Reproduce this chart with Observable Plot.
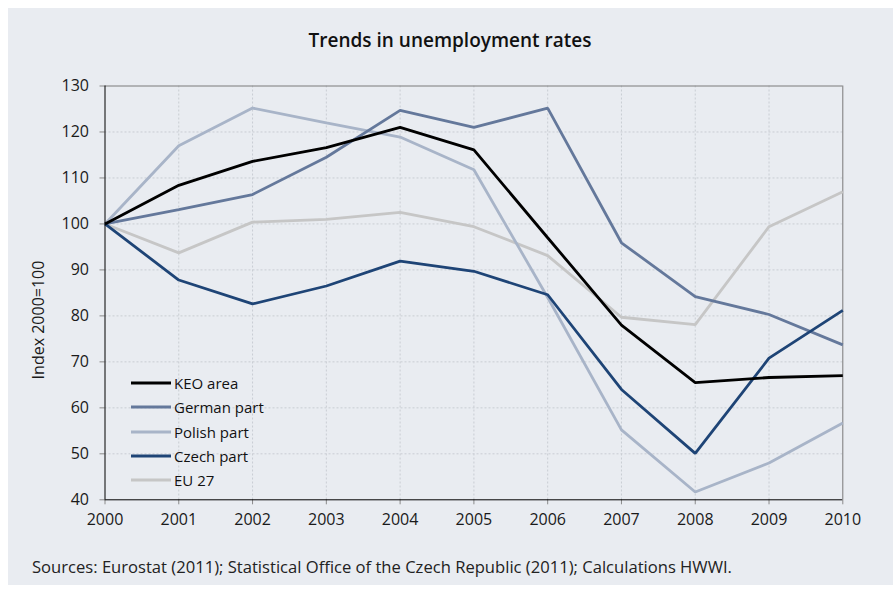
<!DOCTYPE html>
<html>
<head>
<meta charset="utf-8">
<script src="https://cdn.jsdelivr.net/npm/d3@7"></script>
<script src="https://cdn.jsdelivr.net/npm/@observablehq/plot@0.6"></script>
<style>
  html, body { margin: 0; padding: 0; background: #ffffff; width: 895px; height: 592px; overflow: hidden; }
  #panel { position: absolute; left: 8px; top: 8px; width: 885px; height: 577px; background: #e9ecf1; }
  #title { position: absolute; left: 0; width: 900px; top: 27px; text-align: center;
           font-family: "Open Sans", sans-serif; font-weight: 600; font-size: 19px; color: #111; }
  #chart { position: absolute; left: 0; top: 60px; }
  #caption { position: absolute; left: 32px; top: 555px; font-family: "Open Sans", sans-serif;
             font-size: 16.6px; color: #222; white-space: nowrap; }
  #legend { position: absolute; left: 131px; top: 371px; font-family: "Open Sans", sans-serif; font-size: 15px; color: #111; }
  #ylabel { position: absolute; left: 38px; top: 320px; width: 0; height: 0; }
  #ylabel span { position: absolute; transform: translate(-50%, -50%) rotate(-90deg); white-space: nowrap;
                 font-family: "Open Sans", sans-serif; font-size: 16px; color: #1a1a1a; }
  .row { height: 24.3px; display: flex; align-items: center; }
  .row svg { margin-right: 3px; }
</style>
</head>
<body>
<div id="panel"></div>
<div id="title">Trends in unemployment rates</div>
<div id="chart"></div>
<div id="ylabel"><span>Index 2000=100</span></div>
<div id="legend"></div>
<div id="caption">Sources: Eurostat (2011); Statistical Office of the Czech Republic (2011); Calculations HWWI.</div>
<script>
const years  = [2000, 2001, 2002, 2003, 2004, 2005, 2006, 2007, 2008, 2009, 2010];
const keo    = [100, 108.4, 113.6, 116.6, 121.0, 116.1, 97.0, 78.0, 65.5, 66.6, 67.0];
const german = [100, 103.1, 106.4, 114.5, 124.7, 121.0, 125.2, 95.9, 84.2, 80.3, 73.7];
const polish = [100, 117.0, 125.2, 122.0, 118.9, 111.8, 84.0, 55.2, 41.7, 48.0, 56.7];
const czech  = [100, 87.8, 82.6, 86.5, 91.9, 89.7, 84.6, 64.0, 50.1, 70.8, 81.2];
const eu27   = [100, 93.7, 100.4, 101.0, 102.5, 99.4, 93.1, 79.7, 78.1, 99.4, 107.0];
const yTicks = [40, 50, 60, 70, 80, 90, 100, 110, 120, 130];

const seriesNames  = ["KEO area", "German part", "Polish part", "Czech part", "EU 27"];
const seriesValues = [keo, german, polish, czech, eu27];
const seriesColors = ["#000000", "#64789b", "#a8b4c8", "#1e4476", "#c6c6c6"];
const drawOrder = [4, 2, 1, 3, 0];

const rows = [];
seriesNames.forEach((name, i) => years.forEach((yr, j) => rows.push({series: name, year: yr, value: seriesValues[i][j]})));

const grid = "#c9cdd3";
const lineMarks = drawOrder.map(i => Plot.line(rows.filter(r => r.series === seriesNames[i]), {
  x: "year", y: "value", stroke: seriesColors[i], strokeWidth: 2.8, strokeLinejoin: "miter", strokeLinecap: "butt"
}));

const chart = Plot.plot({
  width: 895,
  height: 475,
  marginLeft: 104.5,
  marginRight: 52.7,
  marginTop: 25.5,
  marginBottom: 35.7,
  style: { fontFamily: "Open Sans, sans-serif", background: "transparent", overflow: "visible" },
  x: { domain: [2000, 2010] },
  y: { domain: [40, 130] },
  marks: [
    Plot.ruleY(yTicks.slice(1, -1), { stroke: grid, strokeDasharray: "2,2" }),
    Plot.ruleX(years.slice(1, -1), { stroke: grid, strokeDasharray: "2,2" }),
    Plot.ruleY([130], { stroke: "#7a7a7a" }),
    Plot.ruleX([2010], { stroke: "#7a7a7a" }),
    Plot.axisY({ ticks: yTicks, tickSize: 5, tickPadding: 11, stroke: "#8a8a8a", color: "#1a1a1a", fontSize: 16, label: null }),
    Plot.axisX({ ticks: years, tickFormat: d3.format("d"), tickSize: 5, tickPadding: 9, stroke: "#8a8a8a", color: "#1a1a1a", fontSize: 16, label: null }),
    ...lineMarks,
    Plot.ruleX([2000], { stroke: "#000" }),
    Plot.ruleY([40], { stroke: "#000" })
  ]
});
document.getElementById("chart").appendChild(chart);

const legend = document.getElementById("legend");
seriesNames.forEach((name, i) => {
  const row = document.createElement("div");
  row.className = "row";
  row.innerHTML = `<svg width="40" height="6"><line x1="0" x2="40" y1="3" y2="3" stroke="${seriesColors[i]}" stroke-width="3"/></svg><span>${name}</span>`;
  legend.appendChild(row);
});
</script>
</body>
</html>
